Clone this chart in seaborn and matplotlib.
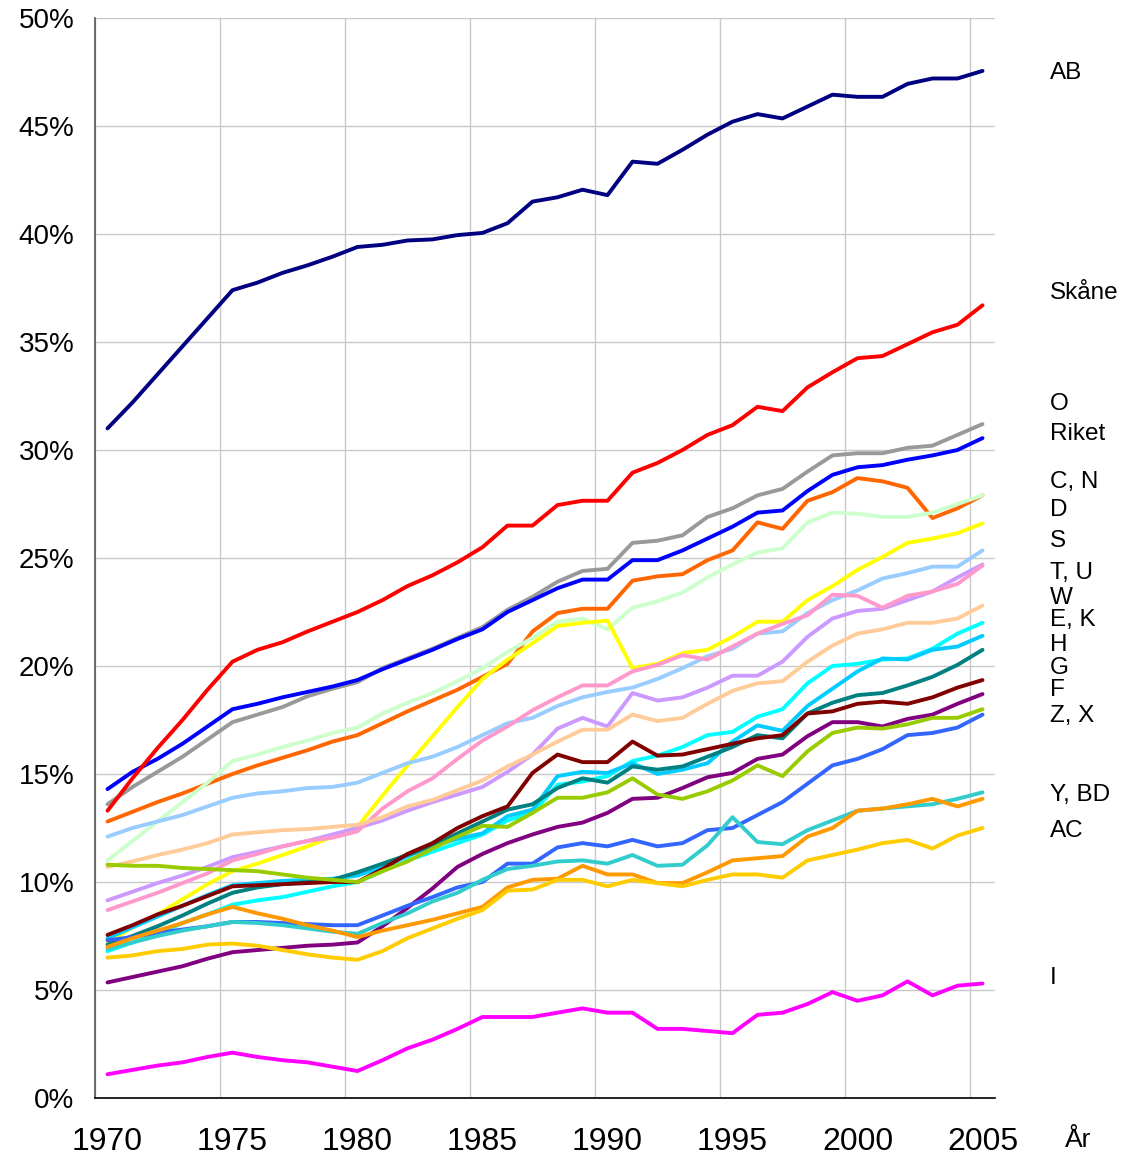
import numpy as np
import pandas as pd
import matplotlib
matplotlib.use("Agg")
import matplotlib.pyplot as plt
import seaborn as sns
from matplotlib.ticker import FixedLocator, FuncFormatter

# years on the category axis
years = list(range(1970, 2006))

# share of population (%) per county
ab = [31.0, 32.2, 33.5, 34.8, 36.1, 37.4, 37.75, 38.2, 38.55, 38.95,
      39.4, 39.5, 39.7, 39.75, 39.95, 40.05, 40.5, 41.5, 41.7, 42.05,
      41.8, 43.35, 43.25, 43.9, 44.6, 45.2, 45.55, 45.35, 45.9, 46.45,
      46.35, 46.35, 46.95, 47.2, 47.2, 47.55]
skane = [13.3, 14.8, 16.2, 17.5, 18.9, 20.2, 20.75, 21.1, 21.6, 22.05,
         22.5, 23.05, 23.7, 24.2, 24.8, 25.5, 26.5, 26.5, 27.45, 27.65,
         27.65, 28.95, 29.4, 30.0, 30.7, 31.15, 32.0, 31.8, 32.9, 33.6,
         34.25, 34.35, 34.9, 35.45, 35.8, 36.7]
o = [13.6, 14.4, 15.1, 15.8, 16.6, 17.4, 17.75, 18.1, 18.6, 18.95,
     19.25, 19.9, 20.35, 20.8, 21.3, 21.8, 22.6, 23.2, 23.9, 24.4,
     24.5, 25.7, 25.8, 26.05, 26.9, 27.3, 27.9, 28.2, 29.0, 29.75,
     29.85, 29.85, 30.1, 30.2, 30.7, 31.2]
riket = [14.3, 15.1, 15.7, 16.4, 17.2, 18.0, 18.25, 18.55, 18.8, 19.05,
         19.35, 19.85, 20.3, 20.75, 21.25, 21.7, 22.5, 23.05, 23.6, 24.0,
         24.0, 24.9, 24.9, 25.35, 25.9, 26.45, 27.1, 27.2, 28.1, 28.85,
         29.2, 29.3, 29.55, 29.75, 30.0, 30.55]
c = [12.8, 13.25, 13.7, 14.1, 14.55, 15.0, 15.4, 15.75, 16.1, 16.5,
     16.8, 17.35, 17.9, 18.4, 18.9, 19.5, 20.1, 21.6, 22.45, 22.65,
     22.65, 23.95, 24.15, 24.25, 24.9, 25.35, 26.65, 26.35, 27.65, 28.05,
     28.7, 28.55, 28.25, 26.85, 27.3, 27.9]
n = [11.0, 11.9, 12.8, 13.7, 14.6, 15.6, 15.9, 16.25, 16.55, 16.9,
     17.15, 17.8, 18.3, 18.75, 19.3, 19.9, 20.65, 21.3, 22.05, 22.2,
     21.7, 22.7, 23.0, 23.4, 24.1, 24.7, 25.25, 25.45, 26.65, 27.1,
     27.05, 26.9, 26.9, 27.1, 27.5, 27.9]
d = [7.2, 7.9, 8.5, 9.2, 9.9, 10.5, 10.85, 11.25, 11.65, 12.1,
     12.55, 14.0, 15.4, 16.75, 18.1, 19.4, 20.3, 21.05, 21.85, 22.0,
     22.1, 19.9, 20.1, 20.6, 20.75, 21.35, 22.05, 22.05, 23.05, 23.7,
     24.45, 25.05, 25.7, 25.9, 26.15, 26.6]
s = [12.1, 12.5, 12.8, 13.1, 13.5, 13.9, 14.1, 14.2, 14.35, 14.4,
     14.6, 15.05, 15.5, 15.8, 16.25, 16.8, 17.35, 17.6, 18.15, 18.55,
     18.8, 19.0, 19.4, 19.9, 20.45, 20.8, 21.5, 21.6, 22.45, 23.05,
     23.5, 24.05, 24.3, 24.6, 24.6, 25.35]
t = [9.15, 9.55, 9.95, 10.3, 10.7, 11.15, 11.4, 11.65, 11.9, 12.2,
     12.5, 12.85, 13.3, 13.7, 14.05, 14.4, 15.1, 15.9, 17.1, 17.6,
     17.2, 18.75, 18.4, 18.55, 19.0, 19.55, 19.55, 20.2, 21.35, 22.2,
     22.55, 22.65, 23.05, 23.45, 24.1, 24.7]
u = [8.7, 9.1, 9.5, 9.95, 10.4, 11.0, 11.3, 11.65, 11.9, 12.05,
     12.35, 13.4, 14.2, 14.8, 15.7, 16.55, 17.2, 17.95, 18.55, 19.1,
     19.1, 19.75, 20.05, 20.5, 20.3, 20.9, 21.5, 21.95, 22.35, 23.3,
     23.25, 22.7, 23.25, 23.45, 23.8, 24.65]
w = [10.7, 10.95, 11.25, 11.5, 11.8, 12.2, 12.3, 12.4, 12.45, 12.55,
     12.65, 13.0, 13.5, 13.8, 14.25, 14.7, 15.35, 15.9, 16.5, 17.05,
     17.05, 17.75, 17.45, 17.6, 18.25, 18.85, 19.2, 19.3, 20.2, 20.95,
     21.5, 21.7, 22.0, 22.0, 22.2, 22.8]
e = [6.8, 7.2, 7.6, 8.1, 8.5, 8.95, 9.15, 9.3, 9.55, 9.8,
     10.0, 10.5, 11.0, 11.4, 11.8, 12.2, 12.85, 13.2, 14.5, 14.65,
     14.9, 15.6, 15.85, 16.25, 16.8, 16.95, 17.65, 18.0, 19.2, 20.0,
     20.1, 20.3, 20.35, 20.8, 21.5, 22.0]
k = [7.4, 7.9, 8.4, 8.9, 9.4, 9.85, 9.95, 10.05, 10.1, 10.15,
     10.3, 10.7, 11.2, 11.65, 12.0, 12.25, 13.05, 13.35, 14.9, 15.1,
     15.05, 15.5, 15.0, 15.2, 15.5, 16.5, 17.25, 17.0, 18.15, 18.95,
     19.75, 20.35, 20.3, 20.75, 20.9, 21.4]
h = [7.1, 7.5, 7.95, 8.45, 9.0, 9.5, 9.75, 9.9, 10.0, 10.1,
     10.45, 10.85, 11.25, 11.7, 12.25, 12.8, 13.35, 13.6, 14.35, 14.8,
     14.6, 15.35, 15.2, 15.35, 15.8, 16.25, 16.8, 16.65, 17.8, 18.3,
     18.65, 18.75, 19.1, 19.5, 20.05, 20.75]
g = [7.55, 8.0, 8.5, 8.9, 9.35, 9.8, 9.85, 9.9, 9.95, 10.0,
     10.0, 10.6, 11.3, 11.8, 12.5, 13.05, 13.5, 15.05, 15.9, 15.55,
     15.55, 16.5, 15.85, 15.9, 16.15, 16.4, 16.65, 16.8, 17.8, 17.9,
     18.25, 18.35, 18.25, 18.55, 19.0, 19.35]
f = [5.35, 5.6, 5.85, 6.1, 6.45, 6.75, 6.85, 6.95, 7.05, 7.1,
     7.2, 7.95, 8.8, 9.7, 10.7, 11.3, 11.8, 12.2, 12.55, 12.75,
     13.2, 13.85, 13.9, 14.35, 14.85, 15.05, 15.7, 15.9, 16.75, 17.4,
     17.4, 17.2, 17.55, 17.75, 18.25, 18.7]
z = [10.8, 10.75, 10.75, 10.65, 10.6, 10.55, 10.5, 10.35, 10.2, 10.1,
     10.0, 10.5, 10.95, 11.55, 12.1, 12.6, 12.55, 13.2, 13.9, 13.9,
     14.15, 14.8, 14.05, 13.85, 14.2, 14.7, 15.4, 14.9, 16.05, 16.9,
     17.15, 17.1, 17.3, 17.6, 17.6, 18.0]
x_ = [7.3, 7.45, 7.65, 7.8, 7.95, 8.15, 8.15, 8.1, 8.05, 8.0,
      8.0, 8.45, 8.9, 9.3, 9.75, 10.0, 10.85, 10.85, 11.6, 11.8,
      11.65, 11.95, 11.65, 11.8, 12.4, 12.5, 13.1, 13.7, 14.55, 15.4,
      15.7, 16.15, 16.8, 16.9, 17.15, 17.75]
y_ = [6.9, 7.2, 7.5, 7.75, 7.95, 8.15, 8.1, 8.0, 7.85, 7.7,
      7.6, 8.1, 8.55, 9.1, 9.5, 10.1, 10.6, 10.75, 10.95, 11.0,
      10.85, 11.25, 10.75, 10.8, 11.7, 13.0, 11.85, 11.75, 12.4, 12.85,
      13.3, 13.4, 13.5, 13.6, 13.85, 14.15]
bd = [7.0, 7.4, 7.75, 8.1, 8.5, 8.85, 8.55, 8.3, 8.0, 7.75,
      7.45, 7.75, 8.0, 8.25, 8.55, 8.85, 9.75, 10.1, 10.15, 10.75,
      10.35, 10.35, 9.95, 9.95, 10.45, 11.0, 11.1, 11.2, 12.1, 12.5,
      13.3, 13.4, 13.6, 13.85, 13.5, 13.85]
ac = [6.5, 6.6, 6.8, 6.9, 7.1, 7.15, 7.05, 6.85, 6.65, 6.5,
      6.4, 6.8, 7.4, 7.85, 8.3, 8.7, 9.6, 9.65, 10.1, 10.1,
      9.8, 10.1, 9.95, 9.8, 10.1, 10.35, 10.35, 10.2, 11.0, 11.25,
      11.5, 11.8, 11.95, 11.55, 12.15, 12.5]
i_ = [1.1, 1.3, 1.5, 1.65, 1.9, 2.1, 1.9, 1.75, 1.65, 1.45,
      1.25, 1.75, 2.3, 2.7, 3.2, 3.75, 3.75, 3.75, 3.95, 4.15,
      3.95, 3.95, 3.2, 3.2, 3.1, 3.0, 3.85, 3.95, 4.35, 4.9,
      4.5, 4.75, 5.4, 4.75, 5.2, 5.3]

# drawing order: first = bottom
series = {
    "O": o, "Riket": riket, "C": c, "N": n, "D": d, "S": s, "T": t, "U": u,
    "W": w, "E": e, "K": k, "H": h, "G": g, "F": f, "Z": z, "X": x_,
    "Y": y_, "BD": bd, "AC": ac, "I": i_, "Skåne": skane, "AB": ab,
}
colors = {
    "AB": "#000080", "Skåne": "#FF0000", "O": "#999999", "Riket": "#0000FF",
    "C": "#FF6600", "N": "#CCFFCC", "D": "#FFFF00", "S": "#99CCFF",
    "T": "#CC99FF", "U": "#FF99CC", "W": "#FFCC99", "E": "#00FFFF",
    "K": "#00CCFF", "H": "#008080", "G": "#800000", "F": "#800080",
    "Z": "#99CC00", "X": "#3366FF", "Y": "#33CCCC", "BD": "#FF9900",
    "AC": "#FFCC00", "I": "#FF00FF",
}

# labels at the right edge and their heights (%)
label_text = ["AB", "Skåne", "O", "Riket", "C, N", "D", "S", "T, U", "W",
              "E, K", "H", "G", "F", "Z, X", "Y, BD", "AC", "I"]
label_pos = [47.45, 37.27, 32.13, 30.74, 28.52, 27.22, 25.79, 24.31, 23.15,
             22.13, 20.97, 19.91, 18.89, 17.69, 14.03, 12.36, 5.55]

rows = []
for name, vals in series.items():
    for pos, v in enumerate(vals):
        rows.append((name, pos, years[pos], v))
df = pd.DataFrame(rows, columns=["lan", "pos", "year", "value"])

sns.set_style("white")
plt.rcParams["font.family"] = ["Liberation Sans", "DejaVu Sans"]
plt.rcParams["text.color"] = "black"

fig = plt.figure(figsize=(11.34, 11.59), dpi=100)
ax = fig.add_axes([95 / 1134, 61 / 1159, 900 / 1134, 1080 / 1159])

sns.lineplot(data=df, x="pos", y="value", hue="lan", hue_order=list(series),
             palette=colors, linewidth=2.8, legend=False, sort=False, ax=ax)

ax.set_xlim(-0.5, 35.5)
ax.set_ylim(0, 50)
ax.set_xlabel("")
ax.set_ylabel("")

# y axis
ax.yaxis.set_major_locator(FixedLocator(np.arange(0, 51, 5)))
ax.yaxis.set_major_formatter(FuncFormatter(lambda v, p: f"{v:.0f}%"))
ax.tick_params(axis="y", which="major", direction="out", length=5, width=1,
               color="#555555", labelcolor="black", labelsize=20, pad=10)

# x axis: labels at category centres, ticks at boundaries
ax.xaxis.set_major_locator(FixedLocator(np.arange(0, 36, 5)))
ax.set_xticklabels([str(yr) for yr in years[::5]])
ax.xaxis.set_minor_locator(FixedLocator(np.arange(-0.5, 35, 5)))
ax.tick_params(axis="x", which="major", length=0, labelsize=23,
               labelcolor="black", pad=21)
ax.tick_params(axis="x", which="minor", direction="out", length=9, width=1,
               color="black")

ax.grid(True, axis="y", which="major", color="#C8C8C8", linewidth=1)
ax.grid(True, axis="x", which="minor", color="#C8C8C8", linewidth=1)
ax.set_axisbelow(True)

for side in ["top", "right"]:
    ax.spines[side].set_visible(False)
ax.spines["left"].set_color("#555555")
ax.spines["left"].set_linewidth(1.2)
ax.spines["bottom"].set_color("black")
ax.spines["bottom"].set_linewidth(1.2)

for txt, yv in zip(label_text, label_pos):
    ax.text(37.7, yv, txt, fontsize=17.5, va="center", ha="left",
            clip_on=False)

fig.text(1065 / 1134, 1 - 1140 / 1159, "År", fontsize=19, va="center",
         ha="left")

fig.savefig("out.png", dpi=100)
